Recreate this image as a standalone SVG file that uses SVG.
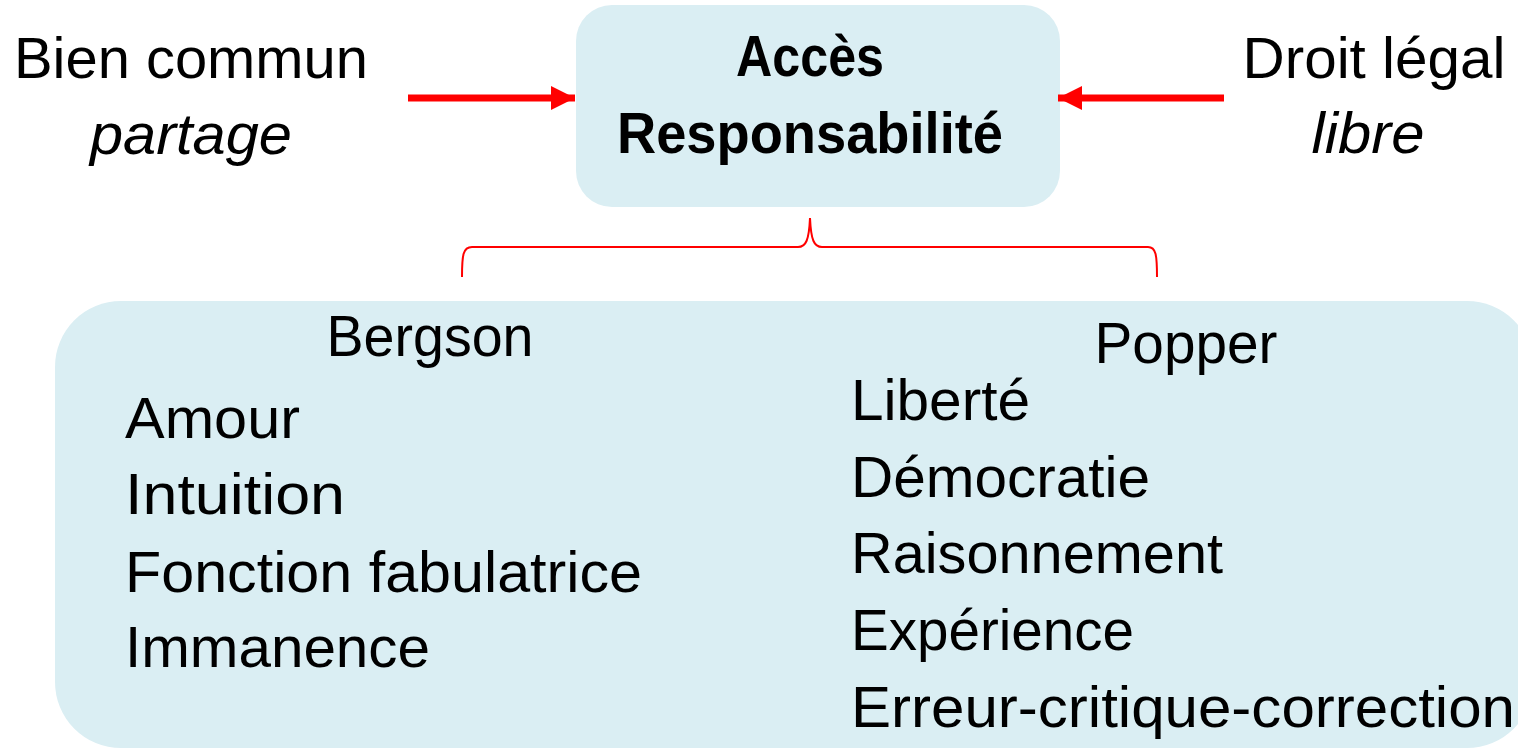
<svg xmlns="http://www.w3.org/2000/svg" width="1518" height="749" viewBox="0 0 1518 749">
<defs>
<style>
.t{font-family:"Liberation Sans",Arial,sans-serif;font-size:57px;fill:#000}
.b{font-weight:bold}
.i{font-style:italic}
.box{fill:#DAEEF3}
.arr{stroke:#FF0000;stroke-width:7;fill:none}
.brace{stroke:#FF0000;stroke-width:2;fill:none}
</style>
<marker id="ah" viewBox="0 0 24 24" refX="24" refY="12" markerWidth="24" markerHeight="24" markerUnits="userSpaceOnUse" orient="auto">
<path d="M0 0 L24 12 L0 24 Z" fill="#FF0000"/>
</marker>
</defs>
<rect width="1518" height="749" fill="#FFFFFF"/>
<g id="left-label">
<text class="t" x="191" y="78" text-anchor="middle" textLength="354" lengthAdjust="spacingAndGlyphs">Bien commun</text>
<text class="t i" x="191" y="154" text-anchor="middle" textLength="202" lengthAdjust="spacingAndGlyphs">partage</text>
</g>
<g id="center-node">
<rect class="box" x="576" y="5" width="484" height="202" rx="36"/>
<text class="t b" x="810" y="76" text-anchor="middle" textLength="148" lengthAdjust="spacingAndGlyphs">Accès</text>
<text class="t b" x="810" y="153" text-anchor="middle" textLength="386" lengthAdjust="spacingAndGlyphs">Responsabilité</text>
</g>
<g id="right-label">
<text class="t" x="1374" y="78" text-anchor="middle" textLength="263" lengthAdjust="spacingAndGlyphs">Droit légal</text>
<text class="t i" x="1368" y="153" text-anchor="middle" textLength="113" lengthAdjust="spacingAndGlyphs">libre</text>
</g>
<g id="bottom-node">
<rect class="box" x="55" y="301" width="1478" height="447" rx="66"/>
<text class="t" x="430" y="356" text-anchor="middle" textLength="207" lengthAdjust="spacingAndGlyphs">Bergson</text>
<text class="t" x="125" y="438" textLength="175" lengthAdjust="spacingAndGlyphs">Amour</text>
<text class="t" x="125" y="514" textLength="220" lengthAdjust="spacingAndGlyphs">Intuition</text>
<text class="t" x="125" y="592" textLength="517" lengthAdjust="spacingAndGlyphs">Fonction fabulatrice</text>
<text class="t" x="125" y="667" textLength="305" lengthAdjust="spacingAndGlyphs">Immanence</text>
<text class="t" x="1186" y="363" text-anchor="middle" textLength="183" lengthAdjust="spacingAndGlyphs">Popper</text>
<text class="t" x="851" y="420" textLength="179" lengthAdjust="spacingAndGlyphs">Liberté</text>
<text class="t" x="851" y="497" textLength="299" lengthAdjust="spacingAndGlyphs">Démocratie</text>
<text class="t" x="851" y="573" textLength="372" lengthAdjust="spacingAndGlyphs">Raisonnement</text>
<text class="t" x="851" y="650" textLength="283" lengthAdjust="spacingAndGlyphs">Expérience</text>
<text class="t" x="851" y="727" textLength="664" lengthAdjust="spacingAndGlyphs">Erreur-critique-correction</text>
</g>
<g id="connectors">
<line class="arr" x1="408" y1="98" x2="575" y2="98" marker-end="url(#ah)"/>
<line class="arr" x1="1224" y1="98" x2="1058" y2="98" marker-end="url(#ah)"/>
<path class="brace" d="M462 277 C462 255 463 247 472 247 L798 247 C806 247 809 240 810 218 C811 240 814 247 822 247 L1148 247 C1156 247 1157 255 1157 277"/>
</g>
</svg>
